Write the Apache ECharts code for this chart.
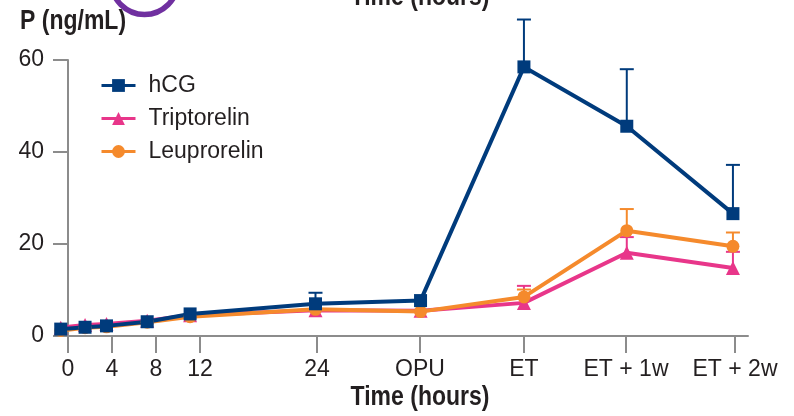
<!DOCTYPE html>
<html>
<head>
<meta charset="utf-8">
<script src="https://cdn.jsdelivr.net/npm/echarts@6/dist/echarts.min.js"></script>
<style>
  html, body { margin: 0; padding: 0; background: #fff; }
  #chart { width: 794px; height: 416px; }
</style>
</head>
<body>
<div id="chart"></div>
<script>
const FONT = '"Liberation Sans", Arial, Helvetica, sans-serif';
const INK = '#231f20';
const AXIS = '#8c8c8c';
const FS = 23;

// Sampling points on the stretched time axis (hours for the first 12 h, then event slots)
const sampleX = [-0.66, 1.55, 3.5, 7.2, 11.1, 22.5, 32.05, 41.45, 50.8, 60.45];
const tickPos = [0, 4, 8, 12, 22.64, 32, 41.45, 50.73, 60.64];
const tickLabels = ['0', '4', '8', '12', '24', 'OPU', 'ET', 'ET + 1w', 'ET + 2w'];

// Progesterone, ng/mL
const hcg         = [1.5, 1.9, 2.2, 3.1, 4.8, 7.0, 7.7, 58.5, 45.6, 26.6];
const triptorelin = [1.8, 2.4, 2.6, 3.3, 4.5, 5.6, 5.5, 7.2, 18.1, 14.8];
const leuprorelin = [1.2, 1.8, 2.0, 3.0, 4.2, 5.8, 5.3, 8.5, 22.9, 19.5];

// Upper SD whiskers: [sample index, upper value]
const hcgErr  = [[5, 9.4], [7, 68.8], [8, 58.0], [9, 37.2]];
const tripErr = [[7, 10.9], [8, 21.5], [9, 18.3]];
const leupErr = [[7, 10.1], [8, 27.6], [9, 22.5]];

const COLORS = { hcg: '#003b7c', trip: '#e8368a', leup: '#f58a2c' };

function pairs(values) {
  return values.map((v, i) => [sampleX[i], v]);
}
function errData(err, values) {
  return err.map(([i, hi]) => [sampleX[i], values[i], hi]);
}
function errSeries(err, values, color) {
  return {
    type: 'custom',
    silent: true,
    clip: false,
    data: errData(err, values),
    renderItem(params, api) {
      const base = api.coord([api.value(0), api.value(1)]);
      const top = api.coord([api.value(0), api.value(2)]);
      const style = { stroke: color, lineWidth: 2 };
      return {
        type: 'group',
        children: [
          { type: 'line', shape: { x1: base[0], y1: base[1], x2: top[0], y2: top[1] }, style },
          { type: 'line', shape: { x1: top[0] - 7, y1: top[1], x2: top[0] + 7, y2: top[1] }, style }
        ]
      };
    }
  };
}
function lineSeries(name, values, color, symbol, size) {
  return {
    name, type: 'line', data: pairs(values),
    clip: false,
    symbol, symbolSize: size,
    lineStyle: { color, width: 4 },
    itemStyle: { color },
    emphasis: { disabled: true }
  };
}
// bold heading text, drawn slightly tall like the axis captions of the figure
function heading(text, x, y, align) {
  return {
    type: 'text', x, y, scaleY: 1.18, originX: 0, originY: 0,
    style: { text, font: 'bold 23px ' + FONT, fill: INK, align, verticalAlign: 'middle' }
  };
}

const chart = echarts.init(document.getElementById('chart'), null, { renderer: 'canvas' });

chart.setOption({
  animation: false,
  textStyle: { fontFamily: FONT, color: INK },
  grid: { left: 68, right: 46, top: 60, bottom: 80 },
  xAxis: {
    type: 'value',
    min: 0, max: 61.82,
    splitLine: { show: false },
    axisLine: { show: true, lineStyle: { color: AXIS, width: 2 } },
    axisTick: { show: true, length: 17, customValues: tickPos, lineStyle: { color: AXIS, width: 2 } },
    axisLabel: {
      customValues: tickPos,
      margin: 22,
      fontSize: FS, lineHeight: FS, fontFamily: FONT, color: INK,
      formatter(v) {
        const i = tickPos.findIndex(p => Math.abs(p - v) < 1e-6);
        return i >= 0 ? tickLabels[i] : '';
      }
    }
  },
  yAxis: {
    type: 'value',
    min: 0, max: 60, interval: 20,
    splitLine: { show: false },
    axisLine: { show: true, lineStyle: { color: AXIS, width: 2 } },
    axisTick: { show: true, length: 15, lineStyle: { color: AXIS, width: 2 } },
    axisLabel: { margin: 9, padding: [0, 15, 0, 0], fontSize: FS, fontFamily: FONT, color: INK }
  },
  legend: {
    orient: 'vertical',
    left: 100, top: 74,
    padding: 0,
    itemWidth: 34, itemHeight: 16, itemGap: 10,
    lineStyle: { width: 3 },
    data: ['hCG', 'Triptorelin', 'Leuprorelin'],
    textStyle: { fontSize: FS, lineHeight: FS, fontFamily: FONT, color: INK, padding: [0, 0, 0, 8] }
  },
  graphic: [
    {
      type: 'circle', silent: true,
      shape: { cx: 144.5, cy: -18.8, r: 33.3 },
      style: { fill: 'none', stroke: '#7030a0', lineWidth: 5.5 }
    },
    heading('P (ng/mL)', 20, 22, 'left'),
    heading('Time (hours)', 420, -2, 'center'),
    heading('Time (hours)', 420, 398, 'center')
  ],
  series: [
    errSeries(tripErr, triptorelin, COLORS.trip),
    lineSeries('Triptorelin', triptorelin, COLORS.trip, 'triangle', 14),
    errSeries(leupErr, leuprorelin, COLORS.leup),
    lineSeries('Leuprorelin', leuprorelin, COLORS.leup, 'circle', 13),
    errSeries(hcgErr, hcg, COLORS.hcg),
    lineSeries('hCG', hcg, COLORS.hcg, 'rect', 13)
  ]
});
</script>
</body>
</html>
